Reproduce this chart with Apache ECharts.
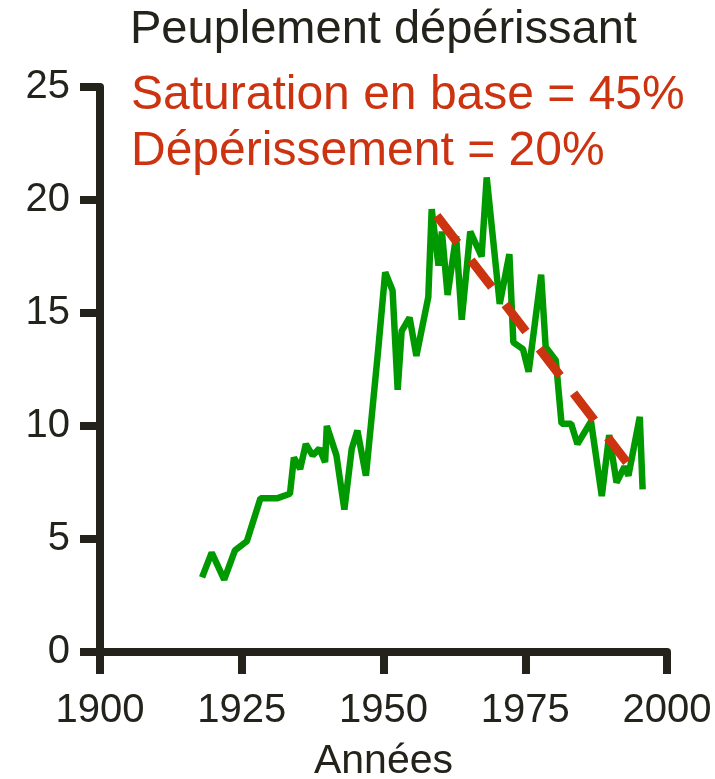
<!DOCTYPE html>
<html>
<head>
<meta charset="utf-8">
<script src="https://cdn.jsdelivr.net/npm/echarts@6/dist/echarts.min.js"></script>
<style>
  html, body { margin: 0; padding: 0; background: #fff; }
  #chart { width: 715px; height: 779px; }
</style>
</head>
<body>
<div id="chart"></div>
<script>
// années et valeurs
const years = [1918, 1919.7, 1921.9, 1923.8, 1925.9, 1928.3, 1931.2, 1933.5, 1934.2, 1935.3,
  1936.3, 1937.5, 1938.7, 1939.7, 1940.0, 1941.7, 1943.1, 1944.4, 1945.4, 1946.9,
  1949.0, 1950.3, 1951.6, 1952.5, 1953.2, 1954.6, 1955.8, 1957.9, 1958.5, 1959.7,
  1960.3, 1961.3, 1962.8, 1963.8, 1965.3, 1967.3, 1968.2, 1970.5, 1972.2, 1972.9,
  1974.6, 1975.6, 1977.8, 1978.6, 1980.4, 1981.4, 1983.1, 1984.2, 1986.6, 1988.5,
  1989.8, 1991.1, 1992.5, 1993.2, 1995.2, 1995.7];
const values = [3.3, 4.4, 3.2, 4.5, 4.9, 6.8, 6.8, 7.0, 8.6, 8.1,
  9.2, 8.7, 9.0, 8.4, 10.0, 8.7, 6.3, 9.0, 9.8, 7.8,
  13.2, 16.8, 16.0, 11.6, 14.2, 14.8, 13.1, 15.7, 19.6, 17.1,
  18.6, 15.8, 18.4, 14.7, 18.6, 17.5, 21.0, 15.4, 17.6, 13.7,
  13.4, 12.4, 16.7, 13.5, 12.9, 10.1, 10.1, 9.2, 10.2, 6.9,
  9.6, 7.5, 8.2, 7.8, 10.4, 7.2];
// tendance (dépérissement)
const trendYears = [1959.4, 1992.9];
const trendValues = [19.3, 8.4];

const xTicks = [1900, 1925, 1950, 1975, 2000];
const yTicks = [0, 5, 10, 15, 20, 25];

const titleText = 'Peuplement dépérissant';
const notes = ['Saturation en base = 45%', 'Dépérissement = 20%'];

const dark = '#23221b';
const red = '#cc3310';
const green = '#009a00';
const font = 'Liberation Sans, Arial, sans-serif';

const chart = echarts.init(document.getElementById('chart'));
chart.setOption({
  animation: false,
  textStyle: { fontFamily: font },
  graphic: [
    { type: 'text', x: 130, y: 30,
      style: { text: titleText, fontSize: 47, fontFamily: font, fill: dark, verticalAlign: 'middle' } },
    { type: 'text', x: 131, y: 96,
      style: { text: notes[0], fontSize: 48, fontFamily: font, fill: red, verticalAlign: 'middle' } },
    { type: 'text', x: 131, y: 152,
      style: { text: notes[1], fontSize: 48, fontFamily: font, fill: red, verticalAlign: 'middle' } }
  ],
  grid: { left: 100, right: 48, top: 87, bottom: 127, outerBoundsMode: 'none', containLabel: false },
  xAxis: {
    type: 'value',
    min: xTicks[0], max: xTicks[xTicks.length - 1], interval: 25,
    name: 'Années', nameLocation: 'middle', nameGap: 89,
    nameTextStyle: { fontSize: 41, color: dark },
    axisLine: { lineStyle: { color: dark, width: 8 } },
    axisTick: { length: 22, lineStyle: { color: dark, width: 8 } },
    axisLabel: { fontSize: 40, color: dark, margin: 39, formatter: v => String(v) },
    splitLine: { show: false }
  },
  yAxis: {
    type: 'value',
    min: yTicks[0], max: yTicks[yTicks.length - 1], interval: 5,
    axisLine: { show: true, lineStyle: { color: dark, width: 8 } },
    axisTick: { show: true, length: 20, lineStyle: { color: dark, width: 8 } },
    axisLabel: { fontSize: 40, color: dark, margin: 30, padding: [0, 0, 10, 0] },
    splitLine: { show: false }
  },
  series: [
    {
      type: 'line',
      data: years.map((y, i) => [y, values[i]]),
      symbol: 'none',
      lineStyle: { color: green, width: 6.5 },
      z: 2
    },
    {
      type: 'line',
      data: trendYears.map((y, i) => [y, trendValues[i]]),
      symbol: 'none',
      lineStyle: { color: red, width: 9, type: [34, 22], cap: 'butt' },
      z: 3
    }
  ]
});
</script>
</body>
</html>
